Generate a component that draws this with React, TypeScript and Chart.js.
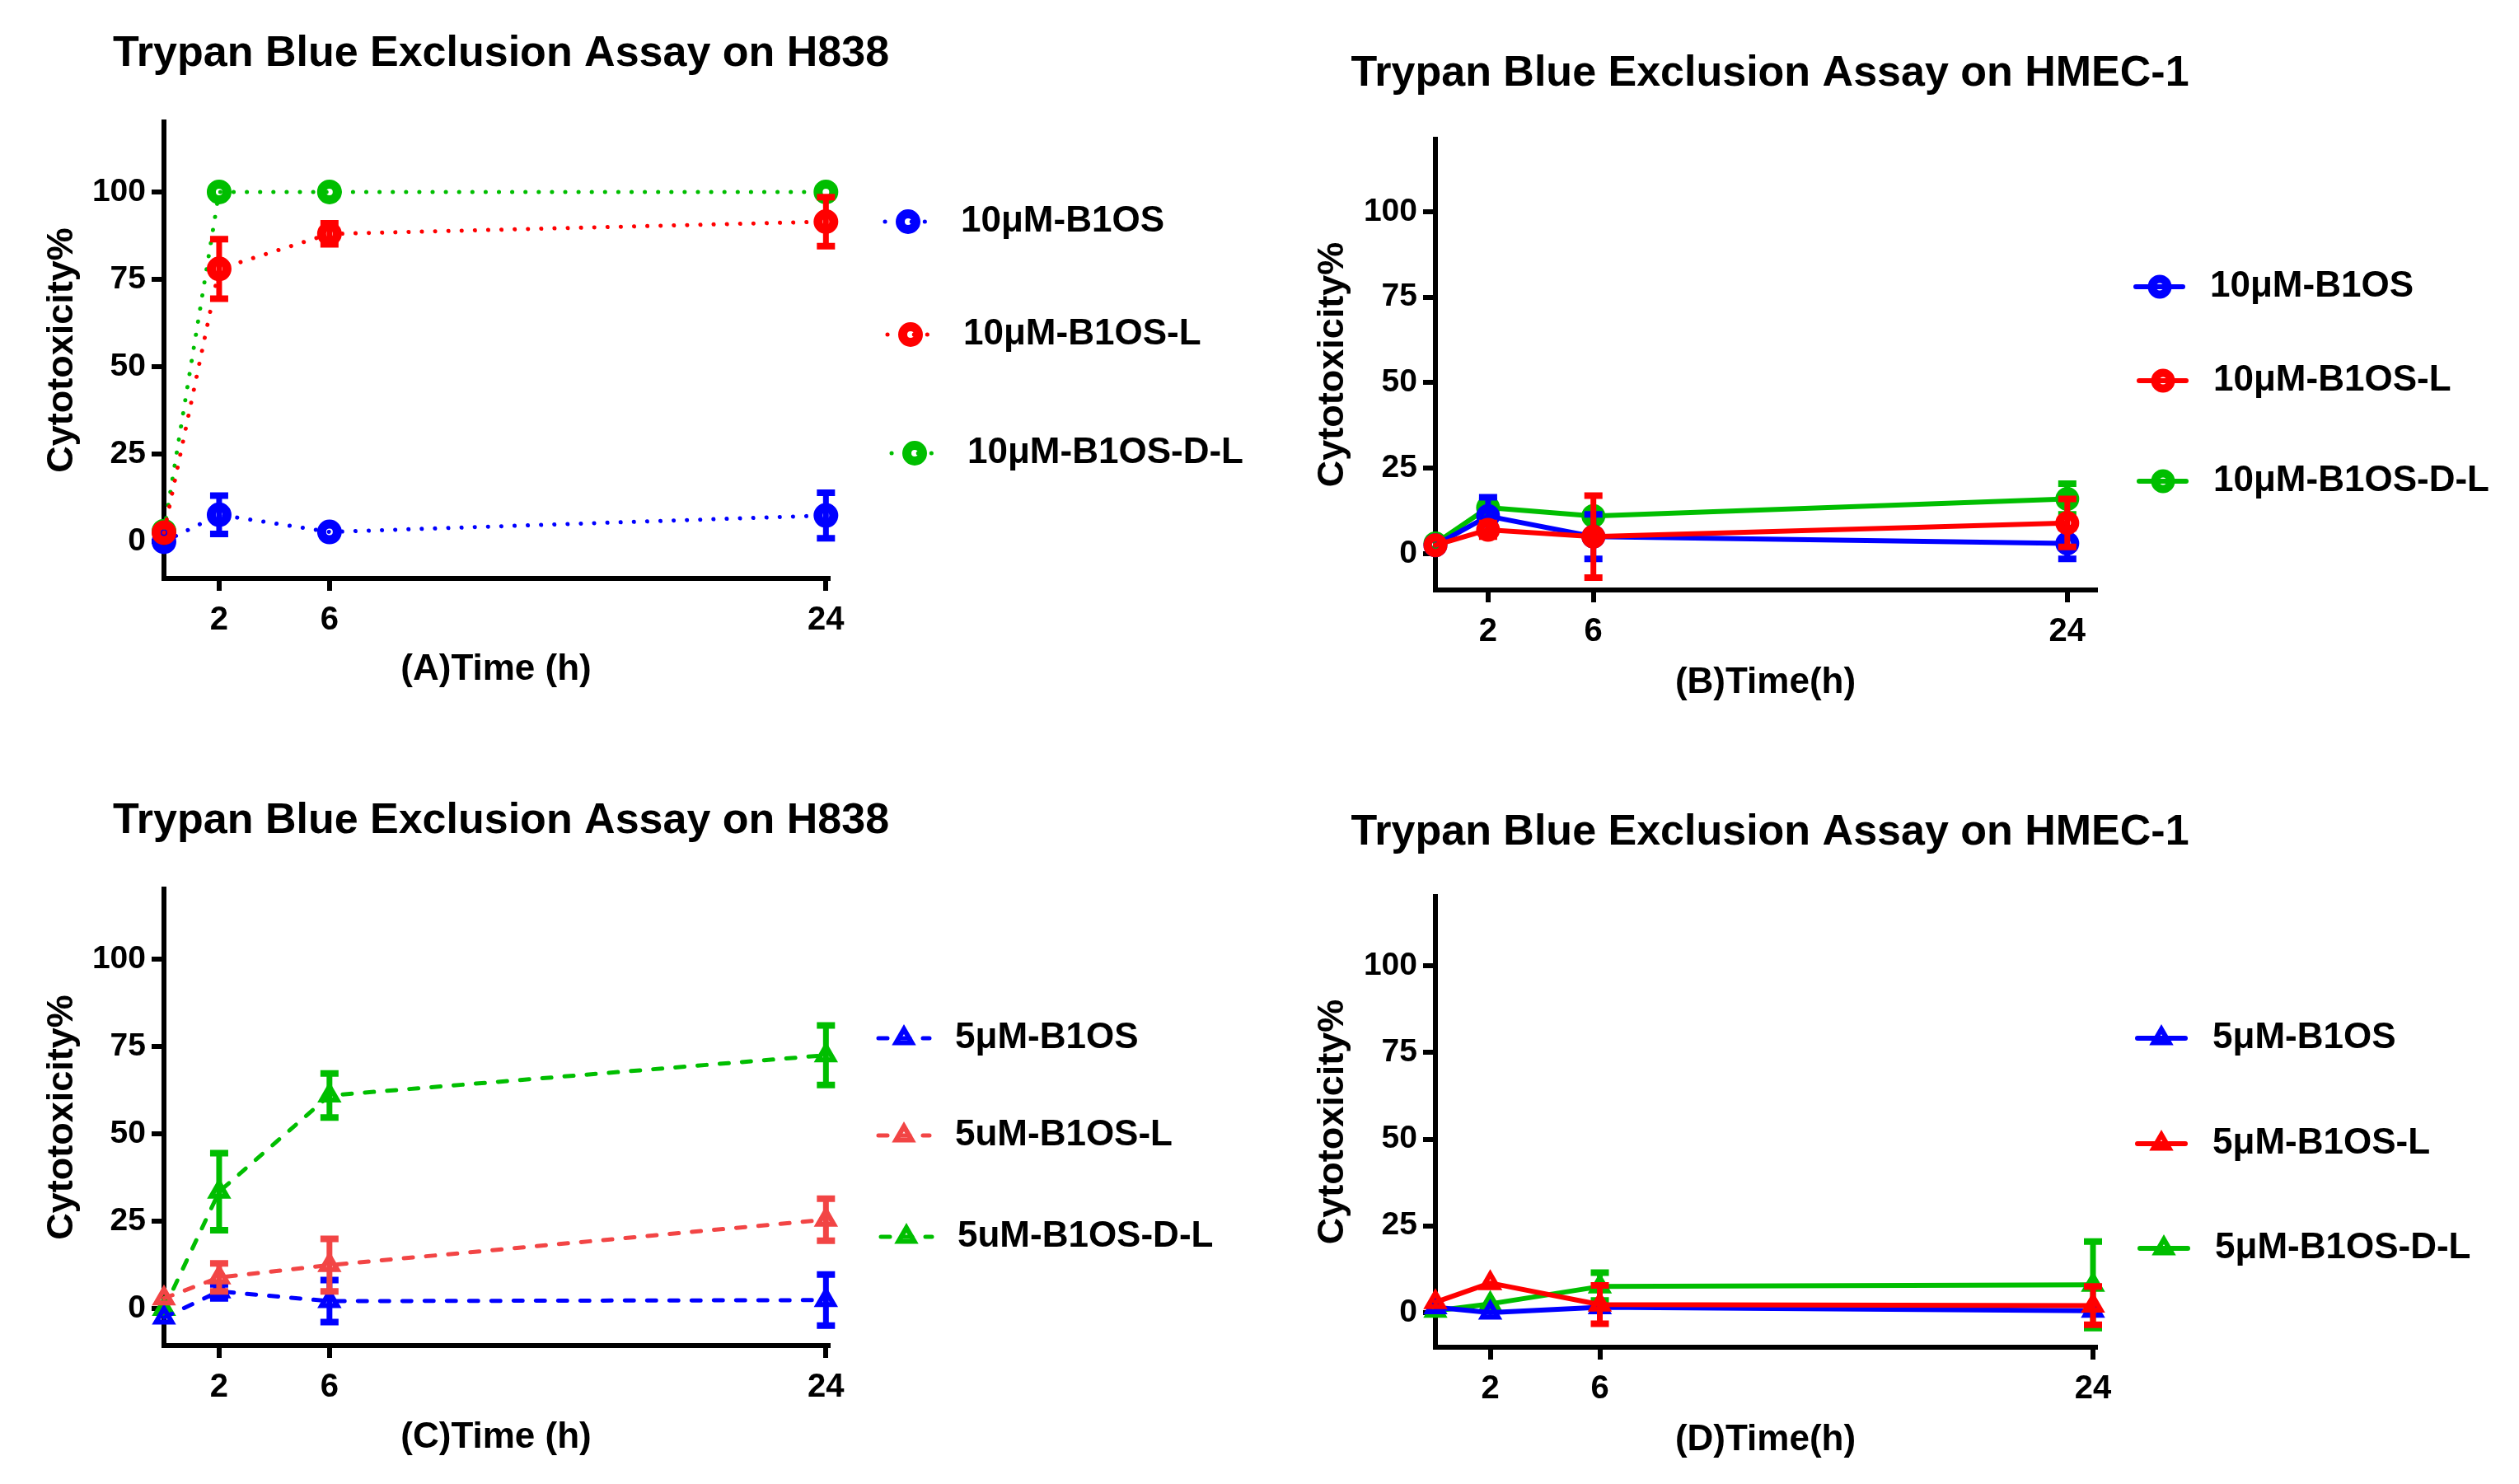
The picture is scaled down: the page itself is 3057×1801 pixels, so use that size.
import React, { useEffect, useRef } from 'react';
import { Chart, registerables } from 'chart.js';

Chart.register(...registerables);

// ---------------- data ----------------
const TIMES = [0, 2, 6, 24];
const X_TICKS = [2, 6, 24];
const Y_TICKS = [0, 25, 50, 75, 100];

const TITLE_H838 = 'Trypan Blue Exclusion Assay on H838';
const TITLE_HMEC = 'Trypan Blue Exclusion Assay on HMEC-1';
const Y_TITLE = 'Cytotoxicity%';

// (A) 10 µM, H838
const A_LABELS = ['10μM-B1OS', '10μM-B1OS-L', '10μM-B1OS-D-L'];
const A_B1OS = [0, 7.7, 2.8, 7.5];
const A_B1OS_ERR = [0, 5.5, 0, 6.5];
const A_L = [2.6, 78, 88, 91.5];
const A_L_ERR = [0, 8.5, 3, 7];
const A_DL = [3, 100, 100, 100];
const A_DL_ERR = [0, 0, 0, 0];

// (B) 10 µM, HMEC-1
const B_LABELS = ['10μM-B1OS', '10μM-B1OS-L', '10μM-B1OS-D-L'];
const B_B1OS = [2.5, 11, 5, 3];
const B_B1OS_ERR = [0, 5.5, 6.5, 4.5];
const B_L = [2.5, 7, 5, 9];
const B_L_ERR = [0, 2, 12, 7];
const B_DL = [3, 13.5, 11, 16];
const B_DL_ERR = [0, 2, 1, 4.5];

// (C) 5 µM, H838
const C_LABELS = ['5μM-B1OS', '5uM-B1OS-L', '5uM-B1OS-D-L'];
const C_B1OS = [-2.5, 5, 2.2, 2.5];
const C_B1OS_ERR = [0, 2, 6, 7.3];
const C_L = [3, 9, 12.5, 25.5];
const C_L_ERR = [0, 4, 7.5, 6];
const C_DL = [0, 33.5, 61, 72.5];
const C_DL_ERR = [0, 11, 6.3, 8.5];

// (D) 5 µM, HMEC-1
const D_LABELS = ['5μM-B1OS', '5μM-B1OS-L', '5μM-B1OS-D-L'];
const D_B1OS = [1.5, 0, 1.5, 0.5];
const D_B1OS_ERR = [0, 0, 0, 0];
const D_L = [3, 8.5, 2.3, 2];
const D_L_ERR = [0, 0, 5.5, 5.5];
const D_DL = [0.5, 2.5, 7.5, 8];
const D_DL_ERR = [0, 0, 4, 12.5];

// ---------------- styles ----------------
const FONT = '"Liberation Sans", Arial, Helvetica, sans-serif';
const BLUE = '#0000FF';
const RED = '#FF0000';
const RED_LIGHT = '#F24545';
const GREEN = '#00BE00';

type Panel = {
  left: number; top: number; w: number; h: number;
  L: number; R: number; T: number; B: number;
  yMin: number; yMax: number; xMax: number;
  titleX: number; titleY: number; xTitlePadB: number; yTitlePadT: number;
  title: string; xTitle: string; labels: string[];
  values: number[][]; errors: number[][]; colors: string[];
  dash: number[]; lineWidth: number; point: 'circle' | 'triangle';
  pointRadius: number; pointBorder: number;
  legend: { rows: number[]; shifts: number[]; lineX1: number; lineX2: number; markerX: number; textX: number };
};

const PANELS: Panel[] = [
  {
    left: 0, top: 0, w: 1528, h: 900, L: 199, R: 1005, T: 148, B: 702,
    yMin: -10.5, yMax: 120, xMax: 24.08, titleX: 608, titleY: 66, xTitlePadB: 60.6, yTitlePadT: 49,
    title: TITLE_H838, xTitle: '(A)Time (h)', labels: A_LABELS,
    values: [A_B1OS, A_L, A_DL], errors: [A_B1OS_ERR, A_L_ERR, A_DL_ERR], colors: [BLUE, RED, GREEN],
    dash: [0.1, 16], lineWidth: 5, point: 'circle', pointRadius: 9.5, pointBorder: 11,
    legend: { rows: [269, 406, 550], shifts: [0, 3, 8], lineX1: 1074, lineX2: 1124, markerX: 1102, textX: 1166 },
  },
  {
    left: 1528, top: 0, w: 1529, h: 900, L: 214, R: 1015, T: 169, B: 716,
    yMin: -10.6, yMax: 121.2, xMax: 25.07, titleX: 620, titleY: 90, xTitlePadB: 44.6, yTitlePadT: 63,
    title: TITLE_HMEC, xTitle: '(B)Time(h)', labels: B_LABELS,
    values: [B_B1OS, B_L, B_DL], errors: [B_B1OS_ERR, B_L_ERR, B_DL_ERR], colors: [BLUE, RED, GREEN],
    dash: [], lineWidth: 6, point: 'circle', pointRadius: 9.5, pointBorder: 10,
    legend: { rows: [348, 462, 584], shifts: [0, 4, 4], lineX1: 1064, lineX2: 1121, markerX: 1093, textX: 1154 },
  },
  {
    left: 0, top: 900, w: 1528, h: 901, L: 199, R: 1005, T: 179, B: 733,
    yMin: -10.5, yMax: 120, xMax: 24.08, titleX: 608, titleY: 97, xTitlePadB: 29.6, yTitlePadT: 49,
    title: TITLE_H838, xTitle: '(C)Time (h)', labels: C_LABELS,
    values: [C_B1OS, C_L, C_DL], errors: [C_B1OS_ERR, C_L_ERR, C_DL_ERR], colors: [BLUE, RED_LIGHT, GREEN],
    dash: [11, 16], lineWidth: 5, point: 'triangle', pointRadius: 11, pointBorder: 6,
    legend: { rows: [360, 478, 601], shifts: [0, 0, 3], lineX1: 1066, lineX2: 1128, markerX: 1097, textX: 1159 },
  },
  {
    left: 1528, top: 900, w: 1529, h: 901, L: 214, R: 1015, T: 188, B: 735,
    yMin: -10, yMax: 120, xMax: 24.09, titleX: 620, titleY: 111, xTitlePadB: 26.6, yTitlePadT: 63,
    title: TITLE_HMEC, xTitle: '(D)Time(h)', labels: D_LABELS,
    values: [D_B1OS, D_L, D_DL], errors: [D_B1OS_ERR, D_L_ERR, D_DL_ERR], colors: [BLUE, RED, GREEN],
    dash: [], lineWidth: 6, point: 'triangle', pointRadius: 11, pointBorder: 6,
    legend: { rows: [360, 488, 615], shifts: [0, 0, 3], lineX1: 1066, lineX2: 1124, markerX: 1095, textX: 1157 },
  },
];

const DRAW_ORDER = [2, 1, 3]; // red on top, then blue, then green

// ---------------- plugins ----------------
const errorBarsPlugin = {
  id: 'errorBars',
  beforeDatasetDraw(chart: any, args: any, opts: any) {
    const errs = opts.errors?.[args.index];
    if (!errs) return;
    const ds = chart.data.datasets[args.index];
    const yScale = chart.scales.y;
    const ctx = chart.ctx;
    ctx.save();
    ctx.strokeStyle = ds.borderColor;
    ctx.lineCap = 'butt';
    ctx.setLineDash([]);
    args.meta.data.forEach((pt: any, i: number) => {
      const e = errs[i];
      if (!e) return;
      const v = ds.data[i].y;
      const yt = yScale.getPixelForValue(v + e);
      const yb = yScale.getPixelForValue(v - e);
      ctx.lineWidth = 7;
      ctx.beginPath();
      ctx.moveTo(pt.x, yt);
      ctx.lineTo(pt.x, yb);
      ctx.stroke();
      ctx.lineWidth = 8;
      ctx.beginPath();
      ctx.moveTo(pt.x - 11, yt);
      ctx.lineTo(pt.x + 11, yt);
      ctx.moveTo(pt.x - 11, yb);
      ctx.lineTo(pt.x + 11, yb);
      ctx.stroke();
    });
    ctx.restore();
  },
};

function drawMarker(ctx: CanvasRenderingContext2D, style: string, x: number, y: number, r: number, bw: number, color: string) {
  ctx.save();
  ctx.setLineDash([]);
  ctx.strokeStyle = color;
  ctx.lineWidth = bw;
  ctx.beginPath();
  if (style === 'triangle') {
    let rad = 0;
    ctx.moveTo(x + Math.sin(rad) * r, y - Math.cos(rad) * r);
    rad += (2 * Math.PI) / 3;
    ctx.lineTo(x + Math.sin(rad) * r, y - Math.cos(rad) * r);
    rad += (2 * Math.PI) / 3;
    ctx.lineTo(x + Math.sin(rad) * r, y - Math.cos(rad) * r);
    ctx.closePath();
  } else {
    ctx.arc(x, y, r, 0, Math.PI * 2);
  }
  ctx.stroke();
  ctx.restore();
}

const lineLegendPlugin = {
  id: 'lineLegend',
  afterDraw(chart: any, _args: any, opts: any) {
    const ctx: CanvasRenderingContext2D = chart.ctx;
    chart.data.datasets.forEach((ds: any, i: number) => {
      const y = opts.rows[i];
      const s = opts.shifts[i];
      ctx.save();
      ctx.strokeStyle = ds.borderColor;
      ctx.lineWidth = ds.borderWidth;
      ctx.lineCap = 'round';
      ctx.setLineDash(ds.borderDash || []);
      ctx.beginPath();
      ctx.moveTo(opts.lineX1 + s, y);
      ctx.lineTo(opts.lineX2 + s, y);
      ctx.stroke();
      ctx.restore();
      drawMarker(ctx, ds.pointStyle, opts.markerX + s, y, ds.pointRadius, ds.pointBorderWidth, ds.borderColor);
      ctx.save();
      ctx.fillStyle = '#000';
      ctx.font = `bold 44px ${FONT}`;
      ctx.textAlign = 'left';
      ctx.textBaseline = 'middle';
      ctx.fillText(ds.label, opts.textX + s, y);
      ctx.restore();
    });
  },
};

const panelTitlePlugin = {
  id: 'panelTitle',
  afterDraw(chart: any, _args: any, opts: any) {
    const ctx: CanvasRenderingContext2D = chart.ctx;
    ctx.save();
    ctx.fillStyle = '#000';
    ctx.font = `bold ${opts.size}px ${FONT}`;
    ctx.textAlign = 'center';
    ctx.textBaseline = 'middle';
    ctx.fillText(opts.text, opts.x, opts.y);
    ctx.restore();
  },
};

// ---------------- config ----------------
function buildConfig(p: Panel): any {
  const datasets = p.labels.map((label, k) => ({
    label,
    data: TIMES.map((t, i) => ({ x: t, y: p.values[k][i] })),
    borderColor: p.colors[k],
    backgroundColor: 'rgba(0,0,0,0)',
    borderWidth: p.lineWidth,
    borderDash: p.dash,
    borderCapStyle: 'round',
    borderJoinStyle: 'round',
    pointStyle: p.point,
    pointRadius: p.pointRadius,
    pointHoverRadius: p.pointRadius,
    pointBorderWidth: p.pointBorder,
    pointBorderColor: p.colors[k],
    pointBackgroundColor: 'rgba(0,0,0,0)',
    tension: 0,
    fill: false,
    clip: false,
    order: DRAW_ORDER[k],
  }));

  const axisCommon = {
    type: 'linear',
    grid: { display: true, drawOnChartArea: false, drawTicks: true, tickLength: 15, lineWidth: 6, color: '#000' },
    border: { display: true, width: 6, color: '#000' },
  };

  return {
    type: 'line',
    data: { datasets },
    options: {
      responsive: false,
      animation: false,
      devicePixelRatio: 1,
      events: [],
      layout: { padding: { left: 0, top: p.T, right: p.w - p.R, bottom: 0 } },
      plugins: {
        legend: { display: false },
        tooltip: { enabled: false },
        title: { display: false },
        panelTitle: { text: p.title, x: p.titleX, y: p.titleY, size: 52 },
        errorBars: { errors: p.errors },
        lineLegend: p.legend,
      },
      scales: {
        x: {
          ...axisCommon,
          position: 'bottom',
          min: 0,
          max: p.xMax,
          afterBuildTicks: (s: any) => { s.ticks = X_TICKS.map((v) => ({ value: v })); },
          afterFit: (s: any) => { s.height = p.h - p.B; },
          ticks: {
            color: '#000',
            font: { family: FONT, size: 40, weight: 'bold', lineHeight: 1.2 },
            padding: 12,
            maxRotation: 0,
            autoSkip: false,
            callback: (v: any) => String(v),
          },
          title: {
            display: true,
            text: p.xTitle,
            color: '#000',
            font: { family: FONT, size: 44, weight: 'bold', lineHeight: 1.2 },
            padding: { top: 0, bottom: p.xTitlePadB },
          },
        },
        y: {
          ...axisCommon,
          position: 'left',
          min: p.yMin,
          max: p.yMax,
          afterBuildTicks: (s: any) => { s.ticks = Y_TICKS.map((v) => ({ value: v })); },
          afterFit: (s: any) => { s.width = p.L; },
          ticks: {
            color: '#000',
            font: { family: FONT, size: 39, weight: 'bold', lineHeight: 1.2 },
            padding: 7,
            autoSkip: false,
            callback: (v: any) => String(v),
          },
          title: {
            display: true,
            text: Y_TITLE,
            color: '#000',
            font: { family: FONT, size: 45, weight: 'bold', lineHeight: 1.2 },
            padding: { top: p.yTitlePadT, bottom: 0 },
          },
        },
      },
    },
    plugins: [errorBarsPlugin, lineLegendPlugin, panelTitlePlugin],
  };
}

function PanelChart({ panel }: { panel: Panel }) {
  const ref = useRef<HTMLCanvasElement | null>(null);
  useEffect(() => {
    if (!ref.current) return;
    const chart = new Chart(ref.current, buildConfig(panel));
    return () => chart.destroy();
  }, [panel]);
  return (
    <canvas
      ref={ref}
      width={panel.w}
      height={panel.h}
      style={{ position: 'absolute', left: panel.left, top: panel.top, width: panel.w, height: panel.h, display: 'block' }}
    />
  );
}

export default function App() {
  useEffect(() => {
    document.body.style.margin = '0';
    document.body.style.overflow = 'hidden';
    document.body.style.background = '#fff';
  }, []);
  return (
    <div style={{ position: 'absolute', left: 0, top: 0, width: 3057, height: 1801, background: '#fff', overflow: 'hidden' }}>
      {PANELS.map((p, i) => (
        <PanelChart key={i} panel={p} />
      ))}
    </div>
  );
}
